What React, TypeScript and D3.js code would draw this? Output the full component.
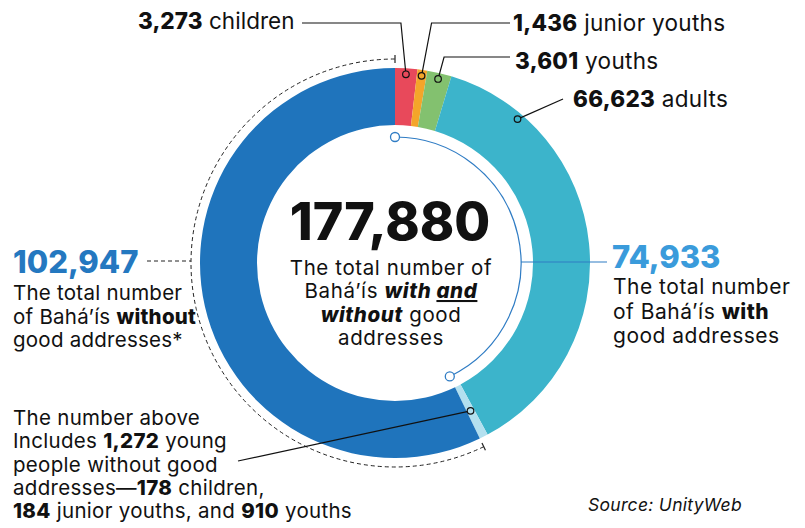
import React from 'react';
import * as d3 from 'd3';

// ---- data ----
const segmentNames = ['children', 'junior youths', 'youths', 'adults', 'young people without good addresses', 'adults without good addresses'];
const segmentValues = [3273, 1436, 3601, 66623, 1272, 101675];
const segmentColors = ['#E8495B', '#F4A52A', '#83C16F', '#3CB4CB', '#B3E0EF', '#1F74BC'];
const labelNumbers = ['3,273', '1,436', '3,601', '66,623'];
const labelWords = ['children', 'junior youths', 'youths', 'adults'];
const totalAll = '177,880';
const totalWith = '74,933';
const totalWithout = '102,947';
const youngWithout = ['1,272', '178', '184', '910'];

const W = 805, H = 528;
const cx = 395, cy = 263;
const R = 195, r = 138;
const FONT = 'Inter, Lato, sans-serif';

function pt(a: number, rad: number): [number, number] {
  return [cx + rad * Math.sin(a), cy - rad * Math.cos(a)];
}

export default function App() {
  const pie = d3.pie<number>().sort(null).value((d) => d);
  const arcs = pie(segmentValues);
  const arcGen = d3.arc<d3.PieArcDatum<number>>().innerRadius(r).outerRadius(R);

  // leader dots
  const dotR = 189;
  const dotAngles = [
    (arcs[0].startAngle + arcs[0].endAngle) / 2,
    (arcs[1].startAngle + arcs[1].endAngle) / 2,
    (arcs[2].startAngle + arcs[2].endAngle) / 2,
    arcs[3].startAngle + 0.175 * (arcs[3].endAngle - arcs[3].startAngle),
  ];
  const dots = dotAngles.map((a) => pt(a, dotR));

  // inner arc for "with"
  const withEnd = arcs[4].endAngle;
  const innerR = 126;
  const innerPath = d3.path();
  innerPath.arc(cx, cy, innerR, -Math.PI / 2, withEnd - Math.PI / 2);
  const innerStart = pt(0, innerR);
  const innerEnd = pt(withEnd, innerR);

  // dashed arc for "without"
  const dashR = 204;
  const dashPath = d3.path();
  dashPath.arc(cx, cy, dashR, withEnd - Math.PI / 2, 2 * Math.PI - Math.PI / 2);
  const tickA0 = pt(0, 200), tickA1 = pt(0, 208);
  const tickB0 = pt(withEnd, 200), tickB1 = pt(withEnd, 208);

  // note dot in light-blue segment
  const noteDot = pt((arcs[4].startAngle + arcs[4].endAngle) / 2, 166);

  const lineY1 = 23, lineY2 = 57;

  return (
    <svg width={W} height={H} style={{ position: 'absolute', left: 0, top: 0, background: '#fff' }} fontFamily={FONT}>
      <rect width={W} height={H} fill="#fff" />
      {arcs.map((a, i) => (
        <path key={segmentNames[i]} d={arcGen(a) || ''} transform={`translate(${cx},${cy})`} fill={segmentColors[i]} />
      ))}

      {/* dashed arc */}
      <path d={dashPath.toString()} fill="none" stroke="#222" strokeWidth={1} strokeDasharray="4 3" />
      <line x1={tickA0[0]} y1={tickA0[1]} x2={tickA1[0]} y2={tickA1[1]} stroke="#222" strokeWidth={1.2} />
      <line x1={tickB0[0]} y1={tickB0[1]} x2={tickB1[0]} y2={tickB1[1]} stroke="#222" strokeWidth={1.2} />
      <line x1={147} y1={261} x2={cx - Math.sqrt(dashR * dashR - 4)} y2={261} stroke="#222" strokeWidth={1} strokeDasharray="4 3" />

      {/* inner "with" arc */}
      <path d={innerPath.toString()} fill="none" stroke="#2F7CC4" strokeWidth={1.2} />
      <line x1={cx + innerR} y1={cy - 1} x2={607} y2={cy - 1} stroke="#2F7CC4" strokeWidth={1.2} />
      <circle cx={innerStart[0]} cy={innerStart[1]} r={4.5} fill="#fff" stroke="#2F7CC4" strokeWidth={1.3} />
      <circle cx={innerEnd[0]} cy={innerEnd[1]} r={4.5} fill="#fff" stroke="#2F7CC4" strokeWidth={1.3} />

      {/* leaders */}
      <polyline points={`${dots[0][0]},${dots[0][1]} ${dots[0][0] - 5},${lineY1} 302,${lineY1}`} fill="none" stroke="#111" strokeWidth={1.2} />
      <polyline points={`${dots[1][0]},${dots[1][1]} ${dots[1][0] + 10},${lineY1} 510,${lineY1}`} fill="none" stroke="#111" strokeWidth={1.2} />
      <polyline points={`${dots[2][0]},${dots[2][1]} ${dots[2][0] + 6},${lineY2} 510,${lineY2}`} fill="none" stroke="#111" strokeWidth={1.2} />
      <line x1={dots[3][0]} y1={dots[3][1]} x2={563} y2={99} stroke="#111" strokeWidth={1.2} />
      {dots.map((d, i) => (
        <circle key={i} cx={d[0]} cy={d[1]} r={3.3} fill={segmentColors[i]} stroke="#111" strokeWidth={1.2} />
      ))}
      <line x1={238} y1={461} x2={noteDot[0]} y2={noteDot[1]} stroke="#111" strokeWidth={1.2} />
      <circle cx={noteDot[0]} cy={noteDot[1]} r={3.3} fill={segmentColors[4]} stroke="#111" strokeWidth={1.2} />

      {/* top labels */}
      <g fontSize={22.5} fill="#111" letterSpacing={0.3}>
        <text x={138} y={29} letterSpacing={0.05}><tspan fontWeight={800}>{labelNumbers[0]}</tspan> {labelWords[0]}</text>
        <text x={513} y={30.5}><tspan fontWeight={800}>{labelNumbers[1]}</tspan> {labelWords[1]}</text>
        <text x={515} y={69}><tspan fontWeight={800}>{labelNumbers[2]}</tspan> {labelWords[2]}</text>
        <text x={573} y={107}><tspan fontWeight={800}>{labelNumbers[3]}</tspan> {labelWords[3]}</text>
      </g>

      {/* center */}
      <text x={390} y={240} textAnchor="middle" fontSize={52} fontWeight={800} fill="#111">{totalAll}</text>
      <g fontSize={20.5} fill="#111" textAnchor="middle" letterSpacing={0.6}>
        <text x={391} y={275}>The total number of</text>
        <text x={391} y={298}>Bahá’ís <tspan fontWeight={800} fontStyle="italic">with </tspan><tspan fontWeight={800} fontStyle="italic" textDecoration="underline">and</tspan></text>
        <text x={391} y={321.5}><tspan fontWeight={800} fontStyle="italic">without</tspan> good</text>
        <text x={391} y={345}>addresses</text>
      </g>

      {/* left big label */}
      <text x={13} y={272.5} fontSize={31} fontWeight={800} fill="#2478C0">{totalWithout}</text>
      <g fontSize={20.5} fill="#111" letterSpacing={0.25}>
        <text x={13} y={300}>The total number</text>
        <text x={13} y={323.5}>of Bahá’ís <tspan fontWeight={800}>without</tspan></text>
        <text x={13} y={347}>good addresses*</text>
      </g>

      {/* right big label */}
      <text x={612} y={268} fontSize={31} fontWeight={800} fill="#3A9BDB">{totalWith}</text>
      <g fontSize={21} fill="#111" letterSpacing={0.5}>
        <text x={613} y={294}>The total number</text>
        <text x={613} y={318.5}>of Bahá’ís <tspan fontWeight={800}>with</tspan></text>
        <text x={613} y={343}>good addresses</text>
      </g>

      {/* note */}
      <g fontSize={20.5} fill="#111" letterSpacing={0.3}>
        <text x={13} y={425}>The number above</text>
        <text x={13} y={448.3}>Includes <tspan fontWeight={800}>{youngWithout[0]}</tspan> young</text>
        <text x={13} y={471.7}>people without good</text>
        <text x={13} y={495}>addresses—<tspan fontWeight={800}>{youngWithout[1]}</tspan> children,</text>
        <text x={13} y={518.3}><tspan fontWeight={800}>{youngWithout[2]}</tspan> junior youths, and <tspan fontWeight={800}>{youngWithout[3]}</tspan> youths</text>
      </g>

      <text x={588} y={510.5} fontSize={17.5} fontStyle="italic" fill="#111" letterSpacing={0.3}>Source: UnityWeb</text>
    </svg>
  );
}
